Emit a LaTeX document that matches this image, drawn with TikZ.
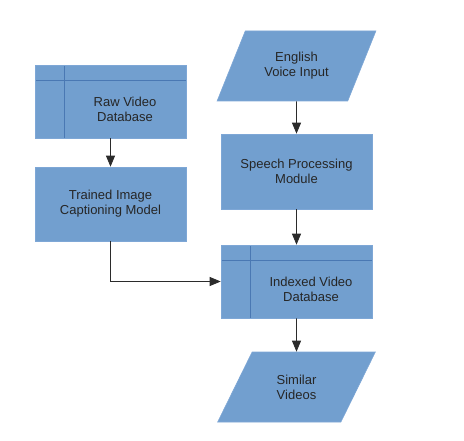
\documentclass[tikz,border=0pt]{standalone}
\usepackage{fontspec}
\setmainfont{Liberation Sans}
\usetikzlibrary{shapes.geometric,arrows.meta}
\definecolor{boxfill}{HTML}{729FCF}
\definecolor{boxline}{HTML}{7EA7D6}
\definecolor{dbline}{HTML}{4A78B3}
\definecolor{flowline}{HTML}{2B2B2B}

\begin{document}
\begin{tikzpicture}[x=1bp,y=-1bp,
    every node/.style={font=\fontsize{13bp}{15bp}\selectfont,text=black!85,align=center},
    procbox/.style={rectangle,fill=boxfill,draw=boxline,line width=0.6bp,minimum width=151bp,minimum height=74bp},
    iobox/.style={trapezium,trapezium left angle=60,trapezium right angle=120,trapezium stretches=true,
        fill=boxfill,draw=boxline,line width=0.6bp,minimum width=159bp,minimum height=70bp},
    dbbox/.style={procbox,minimum height=73bp,
        path picture={\draw[dbline,line width=0.8bp]
            ([xshift=29bp]path picture bounding box.north west) -- ([xshift=29bp]path picture bounding box.south west)
            ([yshift=-15bp]path picture bounding box.north west) -- ([yshift=-15bp]path picture bounding box.north east);}},
    flow/.style={draw=flowline,line width=0.8bp,-{Triangle[length=11bp,width=9bp]}}]
    \useasboundingbox (0,0) rectangle (464,441);

    %izquierda
    \node[dbbox,label={[xshift=14.5bp,yshift=-7.5bp]center:Raw Video\\Database}] (rawdb) at (110.5,101.5) {}; %base de videos
    \node[procbox] (caption) at (110.5,204) {Trained Image\\Captioning Model}; %modelo

    %derecha
    \node[iobox] (voice) at (296.5,66) {English\\Voice Input}; %entrada de voz
    \node[procbox,minimum height=75bp] (speech) at (296.5,171.5) {Speech Processing\\Module}; %modulo de voz
    \node[dbbox,label={[xshift=14.5bp,yshift=-7.5bp]center:Indexed Video\\Database}] (indexdb) at (296.5,281.5) {}; %base indexada
    \node[iobox] (similar) at (296.5,387) {Similar\\Videos}; %salida

    %conectores
    \draw[flow] (rawdb) -- (caption);
    \draw[flow] (voice) -- (speech);
    \draw[flow] (speech) -- (indexdb);
    \draw[flow] (caption.south) |- (indexdb.west);
    \draw[flow] (indexdb) -- (similar);
\end{tikzpicture}
\end{document}
